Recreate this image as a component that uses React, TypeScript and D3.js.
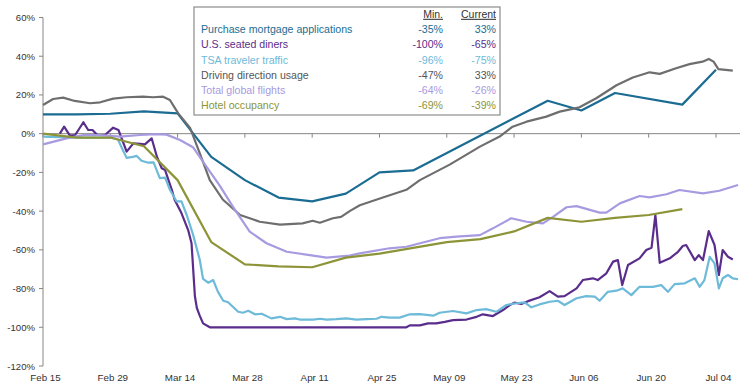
import { useEffect, useRef } from "react";
import * as d3 from "d3";

type Pt = [number, number]; // [days since Feb 15, % change]

const tickLabels = ["Feb 15", "Feb 29", "Mar 14", "Mar 28", "Apr 11", "Apr 25", "May 09", "May 23", "Jun 06", "Jun 20", "Jul 04"];
const tickDays = [0, 14, 28, 42, 56, 70, 84, 98, 112, 126, 140];
const yTicks = [60, 40, 20, 0, -20, -40, -60, -80, -100, -120];

const seriesNames = [
    "Purchase mortgage applications",
    "U.S. seated diners",
    "TSA traveler traffic",
    "Driving direction usage",
    "Total global flights",
    "Hotel occupancy",
];
const minLabels = ["-35%", "-100%", "-96%", "-47%", "-64%", "-69%"];
const currentLabels = ["33%", "-65%", "-75%", "33%", "-26%", "-39%"];
const colors = ["#1b6c93", "#5a2d8c", "#6dbad9", "#6e6e6e", "#a89ae0", "#8c9437"];

const mortgage: Pt[] = [
    [0, 10], [7, 10], [14, 10.3], [21, 11.5], [28, 10.5], [35, -12], [42, -24], [49, -33], [56, -35],
    [63, -31], [70, -20], [77, -19], [105, 17], [112, 12], [119, 21], [133, 15], [140, 33],
];

const diners: Pt[] = [
    [3.5, 0], [4.4, 3.6], [5.6, -1], [6.7, -0.7], [8.4, 5.9], [9.4, 1.9], [10.3, 1.9], [11.3, -0.7],
    [12.9, -0.7], [14.6, 3.1], [15.7, 1.9], [17.4, -9.3], [18.8, -5], [20.2, -5.3], [21.2, -5.5],
    [22.6, -2.4], [23.7, -11.9], [24.7, -17.9], [25.4, -18.8], [26.8, -29], [27.4, -34.3], [28.8, -41],
    [30.2, -49.8], [30.9, -56.6], [31.6, -84], [32, -90], [32.6, -94], [33.3, -98], [34.7, -100],
    [75.6, -100], [76.3, -99], [78.4, -99], [80.1, -98], [81.8, -98], [83.6, -97.2], [85.3, -96.3],
    [88.1, -96], [90.2, -94.6], [91.5, -93.3], [93.6, -94.2], [95.7, -91.1], [97.1, -88.5], [98.1, -87.3],
    [99.5, -88], [100.9, -86.5], [103.3, -84.5], [105.4, -81.3], [107.1, -84.2], [108.5, -83.9],
    [111, -79.9], [112.3, -75.6], [114.4, -74.7], [115.4, -75.6], [117.2, -72.1], [118.6, -66.1],
    [119.6, -65.3], [120.5, -78.2], [121.7, -67.8], [124.1, -64.4], [125.5, -60.1], [126.6, -58.9],
    [127.4, -42], [128.3, -66.7], [130.4, -64.4], [132.1, -61], [133.1, -58], [133.8, -57.5],
    [135.6, -65.3], [136.4, -62.7], [137.3, -65.3], [138.5, -50.3], [139.7, -57.5], [140.6, -73],
    [141.4, -60.1], [142.5, -63.6], [143.5, -65],
];

const tsa: Pt[] = [
    [0, -1.5], [7, -2], [14, -2], [15.6, -3], [16.6, -8.4], [17.4, -12.5], [18.7, -12], [19.5, -11.5],
    [20.5, -14], [21.9, -15], [23, -14.8], [24.3, -23], [25.4, -22.7], [26.4, -29], [27.8, -35],
    [28.8, -35], [29.9, -42], [31.2, -52], [32.6, -65], [33.3, -75], [34.4, -77], [35.4, -75.6],
    [36.4, -81.7], [37.5, -86.3], [38.5, -87.1], [40.6, -92], [41.6, -92.5], [42.7, -91.5], [44.1, -93.3],
    [45.5, -93], [47.5, -95.4], [49.3, -94.6], [50.7, -95.8], [52.4, -95.4], [53.4, -96], [56.2, -96],
    [57.6, -95.6], [59, -96], [61, -95.8], [63.1, -95.4], [65.2, -96], [67.3, -95.8], [69.4, -95.6],
    [70.4, -94.6], [72.1, -95], [74.2, -95], [76.3, -93.3], [78.4, -93.2], [81.2, -94], [82.5, -92.5],
    [85.3, -91.6], [88.1, -92.8], [90.2, -91.1], [92.2, -90.6], [94.3, -92], [96.4, -88.5], [98.5, -87.6],
    [100.2, -87.1], [101.6, -89.7], [103.3, -88.2], [105.4, -86.8], [107.1, -86.3], [108.5, -88.5],
    [111, -85], [113, -83.9], [114.8, -84.2], [115.8, -86.3], [117.5, -81.7], [119.3, -81.1],
    [120.6, -79.9], [122.4, -83.4], [124.1, -79.1], [126.9, -79.1], [128.6, -78.2], [130, -81.7],
    [131.4, -77.7], [133.5, -77.3], [135.6, -74.7], [136.6, -79.1], [137.6, -75.6], [138.7, -63.6],
    [139.7, -67], [140.6, -79.9], [141.4, -74.7], [142.5, -73], [143.5, -74.7], [144.6, -75.2],
];

const driving: Pt[] = [
    [0, 14.8], [2.1, 17.9], [4.2, 18.6], [6.6, 16.9], [9.8, 15.7], [11.9, 16.2], [14.6, 18.1], [17.4, 18.8],
    [20.8, 19.1], [22.9, 18.8], [25, 19.1], [26.4, 17.4], [28.1, 10.6], [30.6, 3], [32.6, -10], [34.7, -24],
    [37.4, -34], [41, -42], [45.1, -45.5], [49.3, -47], [54, -46.3], [56.1, -45], [57.6, -46], [60.3, -43.7],
    [62, -43], [63.8, -40], [65.9, -37], [70.7, -33], [75.6, -29], [78.4, -24], [84.6, -16], [90.9, -6.7],
    [95, -1.5], [97.7, 3.6], [100.6, 6.2], [104.7, 8.8], [107.5, 11.4], [111.6, 13.6], [115.1, 18.3],
    [119.3, 25], [122.7, 29], [126.2, 31.7], [128.3, 30.9], [131.7, 33.8], [134.5, 35.9], [137.2, 37.2],
    [138.5, 38.6], [139.5, 37.2], [140.5, 33.3], [143.5, 32.6],
];

const flights: Pt[] = [
    [0, -5.5], [4.9, -2.4], [8.4, -0.7], [11.9, -0.7], [16, -1.5], [20.2, -0.7], [23.6, -0.2], [25.7, -0.5],
    [28.5, -3.3], [31.2, -7], [34, -17], [36.8, -27], [39.5, -37.7], [43, -50.6], [46.5, -56.6], [50.7, -61],
    [55.5, -62.7], [59, -64], [63.8, -63], [65.9, -61.8], [72.1, -59.2], [75.6, -58.4], [82.5, -54],
    [86, -53.2], [90.9, -52.4], [93.6, -48.9], [97.4, -43.7], [100.6, -45.5], [104, -46.3], [106.1, -43],
    [108.9, -38], [111, -37.4], [115.8, -40.8], [117.2, -40.8], [120, -36], [124.1, -32.2], [126.2, -32.9],
    [129.7, -31.3], [132.4, -29.1], [137.3, -30.8], [140.7, -29.5], [144.6, -26.5],
];

const hotel: Pt[] = [
    [0, 0], [7, -2], [14, -2], [21, -6.5], [28, -24], [35, -56], [42, -67.5], [49, -68.5], [56, -69],
    [63, -64], [70, -62], [77, -59], [84, -56], [91, -54.5], [98, -50.5], [105, -43.5], [112, -45.5],
    [119, -43.5], [126, -42], [133, -39],
];

const allSeries = [mortgage, diners, tsa, driving, flights, hotel];

export default function App() {
    const svgRef = useRef<SVGSVGElement>(null);

    useEffect(() => {
        if (!svgRef.current) return;
        const svg = d3.select(svgRef.current);
        svg.selectAll("*").remove();

        const font = "'Liberation Sans', Arial, sans-serif";
        const axisColor = "#868686";

        const x = d3.scaleLinear().domain([0, 145]).range([43, 740]);
        const y = d3.scaleLinear().domain([-120, 60]).range([366, 17.5]);

        // Y axis
        svg.append("line")
            .attr("x1", x(0)).attr("x2", x(0))
            .attr("y1", y(60)).attr("y2", y(-120))
            .attr("stroke", axisColor).attr("stroke-width", 1);

        yTicks.forEach(t => {
            svg.append("line")
                .attr("x1", x(0) - 4).attr("x2", x(0))
                .attr("y1", y(t)).attr("y2", y(t))
                .attr("stroke", axisColor);
            svg.append("text")
                .attr("x", 35)
                .attr("y", y(t) + 3.5)
                .attr("text-anchor", "end")
                .attr("font-family", font)
                .attr("font-size", "9.6px")
                .attr("fill", "#333")
                .text(`${t}%`);
        });

        // zero line + date ticks
        svg.append("line")
            .attr("x1", x(0)).attr("x2", 740)
            .attr("y1", y(0)).attr("y2", y(0))
            .attr("stroke", axisColor).attr("stroke-width", 1);

        tickDays.forEach((d, i) => {
            svg.append("line")
                .attr("x1", x(d)).attr("x2", x(d))
                .attr("y1", y(0)).attr("y2", y(0) + 4)
                .attr("stroke", axisColor);
            svg.append("text")
                .attr("x", x(d) + 2.5)
                .attr("y", 380.5)
                .attr("text-anchor", "middle")
                .attr("font-family", font)
                .attr("font-size", "9.8px")
                .attr("fill", "#333")
                .text(tickLabels[i]);
        });

        // Lines
        const line = d3.line<Pt>()
            .x(d => x(d[0]))
            .y(d => y(d[1]))
            .curve(d3.curveLinear);

        allSeries.forEach((s, i) => {
            svg.append("path")
                .datum(s)
                .attr("d", line)
                .attr("fill", "none")
                .attr("stroke", colors[i])
                .attr("stroke-width", 2.2)
                .attr("stroke-linejoin", "round");
        });

        // Legend box
        const lg = svg.append("g");
        lg.append("rect")
            .attr("x", 194).attr("y", 7)
            .attr("width", 306).attr("height", 108)
            .attr("fill", "white")
            .attr("stroke", "#8c8c8c").attr("stroke-width", 1.2);

        const header = [["Min.", 443], ["Current", 496]] as const;
        header.forEach(([txt, hx]) => {
            lg.append("text")
                .attr("x", hx).attr("y", 17.8)
                .attr("text-anchor", "end")
                .attr("font-family", font).attr("font-size", "10.5px")
                .attr("fill", "#333")
                .attr("text-decoration", "underline")
                .text(txt);
        });

        seriesNames.forEach((name, i) => {
            const ty = 33.1 + i * 15.2;
            const c = i === 3 ? "#555" : colors[i];
            lg.append("text")
                .attr("x", 201).attr("y", ty)
                .attr("font-family", font).attr("font-size", "10.6px")
                .attr("fill", c)
                .text(name);
            lg.append("text")
                .attr("x", 443).attr("y", ty)
                .attr("text-anchor", "end")
                .attr("font-family", font).attr("font-size", "10.6px")
                .attr("fill", c)
                .text(minLabels[i]);
            lg.append("text")
                .attr("x", 496).attr("y", ty)
                .attr("text-anchor", "end")
                .attr("font-family", font).attr("font-size", "10.6px")
                .attr("fill", c)
                .text(currentLabels[i]);
        });
    }, []);

    return (
        <svg
            ref={svgRef}
            width={755}
            height={388}
            style={{ position: "absolute", left: 0, top: 0, background: "white", display: "block" }}
        ></svg>
    );
}
